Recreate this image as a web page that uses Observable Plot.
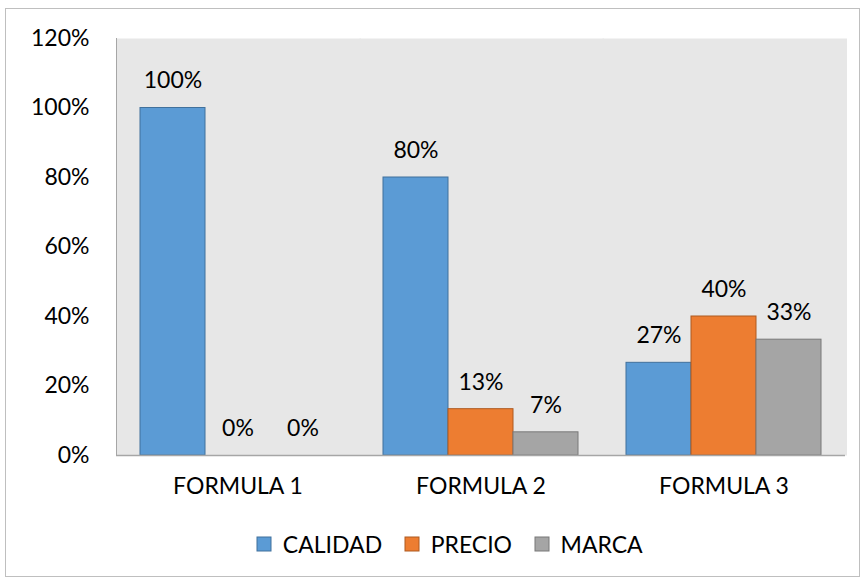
<!DOCTYPE html>
<html>
<head>
<meta charset="utf-8">
<script src="https://cdn.jsdelivr.net/npm/d3@7"></script>
<script src="https://cdn.jsdelivr.net/npm/@observablehq/plot@0.6"></script>
<style>
  html, body { margin: 0; padding: 0; background: #fff; }
  #wrap { position: relative; width: 863px; height: 580px; overflow: hidden; font-family: Lato, sans-serif; }
  #border { position: absolute; left: 5px; top: 8px; width: 853px; height: 567px; border: 1px solid #bfbfbf; }
  #chart { position: absolute; left: 0; top: 0; }
  #legend { position: absolute; left: 30px; top: 527px; width: 863px; display: flex; justify-content: center; }
</style>
</head>
<body>
<div id="wrap">
  <div id="border"></div>
  <div id="chart"></div>
  <div id="legend"></div>
</div>
<script>
const formulas = ["FORMULA 1", "FORMULA 2", "FORMULA 3"];
const series = ["CALIDAD", "PRECIO", "MARCA"];
const calidad = [1.00, 0.80, 0.2667];
const precio = [0.00, 0.1333, 0.40];
const marca = [0.00, 0.0667, 0.3333];
const yTicks = [0, 0.2, 0.4, 0.6, 0.8, 1.0, 1.2];
const fills = ["#5B9BD5", "#ED7D31", "#A5A5A5"];
const strokes = ["#41719C", "#AE5A21", "#787878"];

const valuesBySeries = [calidad, precio, marca];
const data = [];
formulas.forEach((f, i) => {
  series.forEach((s, j) => {
    data.push({formula: f, serie: s, value: valuesBySeries[j][i], stroke: strokes[j]});
  });
});
const pct = d3.format(".0%");

const chart = Plot.plot({
  width: 863,
  height: 520,
  marginLeft: 115,
  marginRight: 17,
  marginTop: 38,
  marginBottom: 65,
  style: {fontFamily: "Lato, sans-serif", fontSize: "23px", color: "#000", background: "transparent"},
  fx: {domain: formulas, padding: 0, label: null, axis: "bottom", tickSize: 0, tickPadding: 22},
  x: {domain: series, paddingInner: 0, paddingOuter: 0.346, axis: null},
  y: {domain: [0, 1.2], ticks: yTicks, tickFormat: pct, tickSize: 0, tickPadding: 27, label: null},
  color: {domain: series, range: fills},
  marks: [
    Plot.frame({fill: "#e7e7e7", stroke: "none", insetRight: -1.5}),
    Plot.barY(data, {fx: "formula", x: "serie", y: "value", fill: "serie", stroke: "stroke", strokeWidth: 1, inset: 0}),
    Plot.text(data, {fx: "formula", x: "serie", y: "value", text: d => pct(d.value), dy: -27, fill: "#000", fontSize: 23}),
    Plot.ruleY([0], {stroke: "#a6a6a6", strokeWidth: 1.5}),
    Plot.frame({anchor: "left", facetAnchor: "left", stroke: "#a6a6a6"})
  ]
});
document.getElementById("chart").appendChild(chart);

const leg = Plot.legend({
  color: {domain: series, range: fills},
  legend: "swatches",
  swatchSize: 14,
  style: {fontFamily: "Lato, sans-serif", fontSize: "23px", color: "#000"}
});
document.getElementById("legend").appendChild(leg);
document.querySelectorAll("#legend svg").forEach((svg, i) => {
  svg.querySelectorAll("rect").forEach(r => r.setAttribute("stroke", strokes[i]));
});
</script>
</body>
</html>
